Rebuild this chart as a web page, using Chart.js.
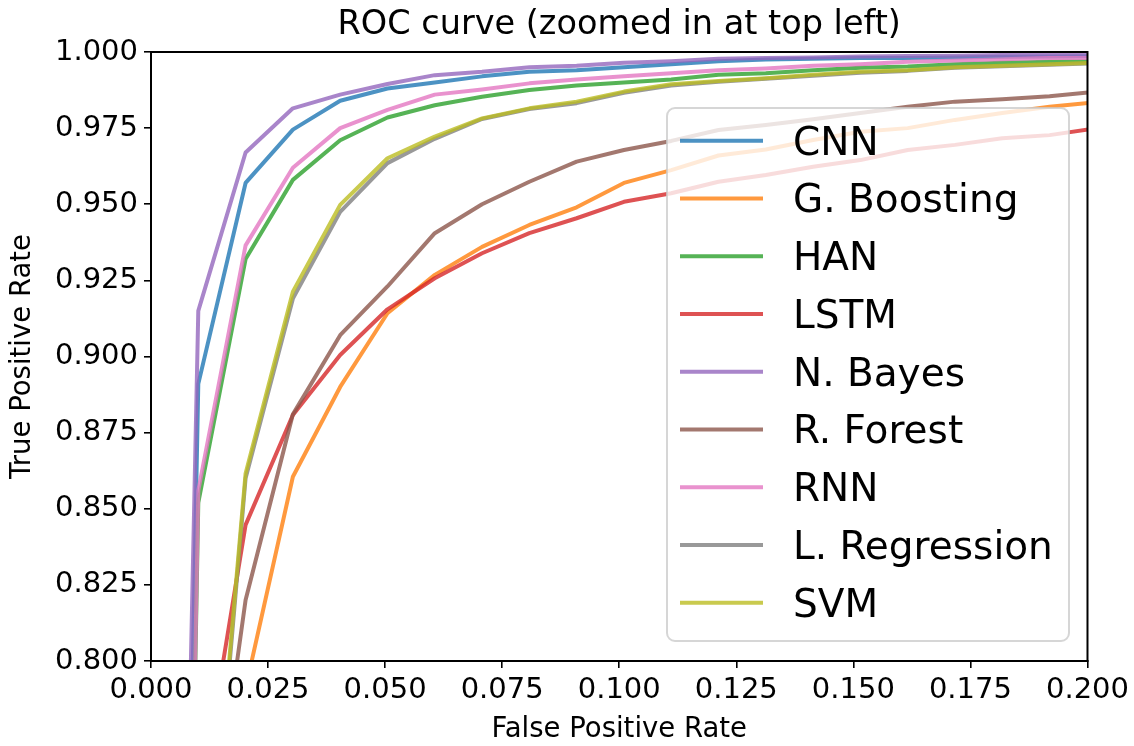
<!DOCTYPE html>
<html>

<head>
    <title>ROC curve</title>
    <style>
        body { margin: 0; background: #fff; }
    </style>
</head>

<body>
    <canvas id="myChart" width="1134" height="746"></canvas>
    <script src="https://cdn.jsdelivr.net/npm/chart.js@4.4.1/dist/chart.umd.min.js"></script>

    <script type="text/javascript">
        // false positive rate grid (one point per ~0.0101)
        const fpr = [0, 0.0101, 0.0202, 0.0303, 0.0404, 0.0505, 0.0606, 0.0707, 0.0808, 0.0909, 0.1010,
            0.1111, 0.1212, 0.1313, 0.1414, 0.1515, 0.1616, 0.1717, 0.1818, 0.1919, 0.2020];

        const names = ['CNN', 'G. Boosting', 'HAN', 'LSTM', 'N. Bayes', 'R. Forest', 'RNN', 'L. Regression', 'SVM'];

        const cnn = [0.10, 0.891, 0.957, 0.9745, 0.984, 0.988, 0.990, 0.992, 0.9935, 0.994, 0.995,
            0.996, 0.997, 0.9975, 0.9978, 0.998, 0.998, 0.9982, 0.9984, 0.9985, 0.9986];
        const gBoosting = [0.30, 0.60, 0.791, 0.8605, 0.890, 0.9142, 0.9268, 0.936, 0.9432, 0.949, 0.957,
            0.9612, 0.966, 0.968, 0.9711, 0.9738, 0.975, 0.9777, 0.980, 0.982, 0.9835];
        const han = [0.0, 0.852, 0.932, 0.958, 0.971, 0.9785, 0.9825, 0.9853, 0.9875, 0.989, 0.990,
            0.991, 0.9925, 0.993, 0.994, 0.9948, 0.9952, 0.996, 0.9965, 0.9968, 0.997];
        const lstm = [0.30, 0.750, 0.8447, 0.8808, 0.9005, 0.9155, 0.9257, 0.9339, 0.9405, 0.9454, 0.9508,
            0.9536, 0.9574, 0.9596, 0.9623, 0.9645, 0.9678, 0.9695, 0.9717, 0.9727, 0.975];
        const nBayes = [0.18, 0.915, 0.967, 0.9815, 0.986, 0.9895, 0.9924, 0.9935, 0.995, 0.9955, 0.9965,
            0.997, 0.9978, 0.998, 0.9982, 0.9985, 0.9987, 0.9988, 0.999, 0.999, 0.9992];
        const rForest = [0.30, 0.708, 0.820, 0.881, 0.907, 0.923, 0.9405, 0.950, 0.9574, 0.964, 0.9678,
            0.9708, 0.9744, 0.976, 0.9779, 0.980, 0.982, 0.9837, 0.9845, 0.9855, 0.987];
        const rnn = [0.0, 0.856, 0.9365, 0.962, 0.975, 0.981, 0.986, 0.9877, 0.9897, 0.991, 0.992,
            0.993, 0.994, 0.9946, 0.9955, 0.996, 0.9968, 0.9972, 0.9976, 0.998, 0.998];
        const lRegression = [0.40, 0.680, 0.860, 0.919, 0.9475, 0.9635, 0.9715, 0.978, 0.9813, 0.9832, 0.9866,
            0.989, 0.9902, 0.9912, 0.9922, 0.9932, 0.9938, 0.9948, 0.9953, 0.9958, 0.9963];
        const svm = [0.40, 0.684, 0.8616, 0.9213, 0.9498, 0.9651, 0.9722, 0.9782, 0.9815, 0.9837, 0.987,
            0.9894, 0.9905, 0.9914, 0.9925, 0.9935, 0.994, 0.995, 0.9955, 0.996, 0.9965];

        const xTicks = [0, 0.025, 0.05, 0.075, 0.1, 0.125, 0.15, 0.175, 0.2];
        const xTickLabels = ['0.000', '0.025', '0.050', '0.075', '0.100', '0.125', '0.150', '0.175', '0.200'];
        const yTicks = [0.8, 0.825, 0.85, 0.875, 0.9, 0.925, 0.95, 0.975, 1.0];
        const yTickLabels = ['0.800', '0.825', '0.850', '0.875', '0.900', '0.925', '0.950', '0.975', '1.000'];

        const allSeries = [cnn, gBoosting, han, lstm, nBayes, rForest, rnn, lRegression, svm];
        const colors = ['rgba(31,119,180,0.8)', 'rgba(255,127,14,0.8)', 'rgba(44,160,44,0.8)', 'rgba(214,39,40,0.8)',
            'rgba(148,103,189,0.8)', 'rgba(140,86,75,0.8)', 'rgba(227,119,194,0.8)', 'rgba(127,127,127,0.8)',
            'rgba(188,189,34,0.8)'];

        const font = 'DejaVu Sans';
        const titleText = 'ROC curve (zoomed in at top left)';

        const datasets = names.map((name, i) => ({
            label: name,
            data: fpr.map((x, j) => ({ x: x, y: allSeries[i][j] })),
            borderColor: colors[i],
            backgroundColor: colors[i],
            borderWidth: 4,
            pointRadius: 0,
            fill: false,
            tension: 0,
            clip: 0,
            borderJoinStyle: 'round',
            order: names.length - 1 - i   // later series on top, like matplotlib
        }));

        // title centred over the plot, frame on all four sides, legend box inside the plot
        const framePlugin = {
            id: 'frame',
            afterDatasetsDraw(chart) {
                const ctx = chart.ctx;
                const a = chart.chartArea;
                ctx.save();
                // title
                ctx.font = '33.5px "' + font + '"';
                ctx.fillStyle = '#000';
                ctx.textAlign = 'center';
                ctx.textBaseline = 'alphabetic';
                ctx.fillText(titleText, (a.left + a.right) / 2, 34);
                // legend
                const bx = 667, by = 108, bw = 402, bh = 533, r = 8;
                ctx.beginPath();
                ctx.roundRect(bx, by, bw, bh, r);
                ctx.fillStyle = 'rgba(255,255,255,0.8)';
                ctx.fill();
                ctx.lineWidth = 2;
                ctx.strokeStyle = 'rgba(204,204,204,0.8)';
                ctx.stroke();
                ctx.font = '39px "' + font + '"';
                ctx.textAlign = 'left';
                chart.data.datasets.forEach((ds, i) => {
                    const yy = 140.7 + i * 57.75;
                    ctx.beginPath();
                    ctx.moveTo(680, yy);
                    ctx.lineTo(763, yy);
                    ctx.lineWidth = 4;
                    ctx.strokeStyle = ds.borderColor;
                    ctx.stroke();
                    ctx.fillStyle = '#000';
                    ctx.fillText(ds.label, 793, yy + 14);
                });
                ctx.lineWidth = 2;
                ctx.strokeStyle = '#000';
                ctx.strokeRect(a.left, a.top, a.right - a.left, a.bottom - a.top);
                ctx.restore();
            }
        };

        const ctx = document.getElementById('myChart').getContext('2d');
        const chart = new Chart(ctx, {
            type: 'line',
            data: { datasets: datasets },
            plugins: [framePlugin],
            options: {
                responsive: false,
                animation: false,
                layout: { padding: { left: 0, right: 45, top: 52, bottom: 0 } },
                plugins: {
                    legend: { display: false },
                    tooltip: { enabled: false },
                    title: { display: false }
                },
                scales: {
                    x: {
                        type: 'linear',
                        min: 0,
                        max: 0.2,
                        afterBuildTicks: s => { s.ticks = xTicks.map(v => ({ value: v })); },
                        afterFit: s => { s.height = 85; },
                        ticks: {
                            color: '#000',
                            font: { family: font, size: 29 },
                            padding: 5,
                            maxRotation: 0,
                            callback: (v, i) => xTickLabels[i]
                        },
                        grid: { display: true, drawOnChartArea: false, drawTicks: true, tickLength: 7, color: '#000', lineWidth: 1.6 },
                        border: { display: true, color: '#000', width: 2 },
                        title: {
                            display: true,
                            text: 'False Positive Rate',
                            color: '#000',
                            font: { family: font, size: 27.5 },
                            padding: { top: 0, bottom: 0 }
                        }
                    },
                    y: {
                        type: 'linear',
                        min: 0.8,
                        max: 1.0,
                        afterBuildTicks: s => { s.ticks = yTicks.map(v => ({ value: v })); },
                        afterFit: s => { s.width = 151; },
                        ticks: {
                            color: '#000',
                            font: { family: font, size: 29 },
                            padding: 6,
                            callback: (v, i) => yTickLabels[i]
                        },
                        grid: { display: true, drawOnChartArea: false, drawTicks: true, tickLength: 7, color: '#000', lineWidth: 1.6 },
                        border: { display: true, color: '#000', width: 2 },
                        title: {
                            display: true,
                            text: 'True Positive Rate',
                            color: '#000',
                            font: { family: font, size: 27.5 },
                            padding: { top: 6, bottom: 0 }
                        }
                    }
                }
            }
        });
    </script>
</body>

</html>
